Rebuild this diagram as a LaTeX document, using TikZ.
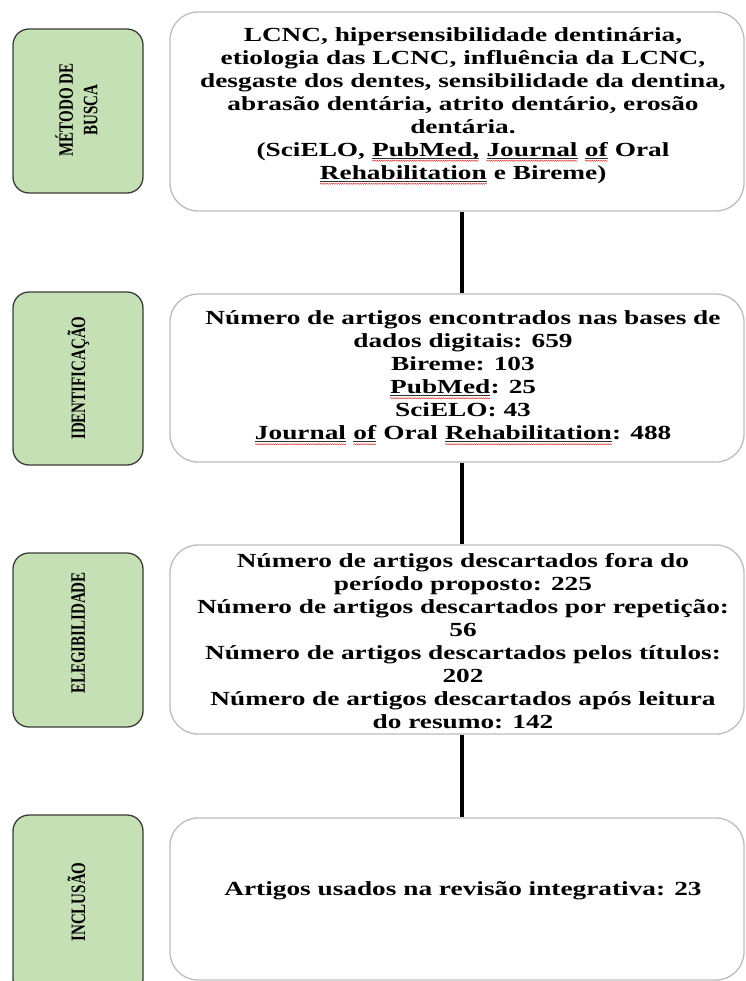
\documentclass[tikz,border=0pt]{standalone}
\usepackage{fontspec}
\setmainfont{Liberation Serif}
\newfontfamily\boxfont[FakeStretch=1.365]{Liberation Serif}
\usetikzlibrary{decorations.pathmorphing}
\definecolor{labelgreen}{HTML}{C5E0B4}
\definecolor{labeledge}{HTML}{3B3B3B}
\definecolor{boxedge}{HTML}{BDBDBD}
\definecolor{squigred}{HTML}{E03A3A}
\definecolor{ulgray}{HTML}{303030}
\newcommand\sqw[1]{\tikz[baseline=(w.base),x=1pt,y=1pt]{\node[inner sep=0pt,outer sep=0pt,anchor=base](w){#1};\draw[ulgray,line width=0.6pt,sharp corners]([yshift=-2pt]w.base west)--([yshift=-2pt]w.base east);\draw[squigred,line width=0.5pt,sharp corners,decorate,decoration={snake,amplitude=0.6pt,segment length=2.2pt}]([yshift=-4.5pt]w.base west)--([yshift=-4.5pt]w.base east);}}
\newcommand\labelfont{\bfseries\fontsize{15}{18}\selectfont}
\newcommand\lbl[1]{\labelfont\scalebox{1}[1.365]{\begin{tabular}{@{}c@{}}#1\end{tabular}}}
\begin{document}
\begin{tikzpicture}[x=1pt,y=-1pt,
  labelbox/.style={draw=labeledge,fill=labelgreen,line width=1.3pt,rounded corners=16pt},
  mainbox/.style={draw=boxedge,fill=white,line width=1.3pt,rounded corners=28pt},
  link/.style={line width=4.5pt,draw=black},
  maintext/.style={font=\boxfont\bfseries\fontsize{20}{23}\selectfont,align=center,inner sep=0pt},
  labeltext/.style={rotate=90,inner sep=0pt}]
\useasboundingbox (0,0) rectangle (745,981);
\clip (0,0) rectangle (745,981);
% label boxes
\node[labelbox,minimum width=130pt,minimum height=164pt] (g1) at (78,111) {};
\node[labelbox,minimum width=130pt,minimum height=173pt] (g2) at (78,378.5) {};
\node[labelbox,minimum width=130pt,minimum height=174pt] (g3) at (78,640) {};
\node[labelbox,minimum width=130pt,minimum height=180pt] (g4) at (78,905) {};
\node[labeltext] (l1) at (80,110) {\lbl{MÉTODO DE\\BUSCA}};
\node[labeltext] (l2) at (80,378) {\lbl{IDENTIFICAÇÃO}};
\node[labeltext] (l3) at (80,633) {\lbl{ELEGIBILIDADE}};
\node[labeltext] (l4) at (80,902) {\lbl{INCLUSÃO}};
% main boxes
\node[mainbox,minimum width=574pt,minimum height=199pt] (b1) at (457,111.5) {};
\node[mainbox,minimum width=574pt,minimum height=168pt] (b2) at (457,378) {};
\node[mainbox,minimum width=574pt,minimum height=189pt] (b3) at (457,639.5) {};
\node[mainbox,minimum width=574pt,minimum height=162pt] (b4) at (457,899) {};
% connectors
\draw[link] ([xshift=5pt]b1.south) -- ([xshift=5pt]b2.north);
\draw[link] ([xshift=5pt]b2.south) -- ([xshift=5pt]b3.north);
\draw[link] ([xshift=5pt]b3.south) -- ([xshift=5pt]b4.north);
% texts
\node[maintext] (t1) at (463,106) {LCNC, hipersensibilidade dentinária,\\etiologia das LCNC, influência da LCNC,\\desgaste dos dentes, sensibilidade da dentina,\\abrasão dentária, atrito dentário, erosão\\dentária.\\(SciELO, \sqw{PubMed,} \sqw{Journal} \sqw{of} Oral\\\sqw{Rehabilitation} e Bireme)};
\node[maintext] (t2) at (463,378) {Número de artigos encontrados nas bases de\\dados digitais: 659\\Bireme: 103\\\sqw{PubMed}: 25\\SciELO: 43\\\sqw{Journal} \sqw{of} Oral \sqw{Rehabilitation}: 488};
\node[maintext] (t3) at (463,641) {Número de artigos descartados fora do\\período proposto: 225\\Número de artigos descartados por repetição:\\56\\Número de artigos descartados pelos títulos:\\202\\Número de artigos descartados após leitura\\do resumo: 142};
\node[maintext] (t4) at (463,891) {Artigos usados na revisão integrativa: 23};
\end{tikzpicture}
\end{document}
